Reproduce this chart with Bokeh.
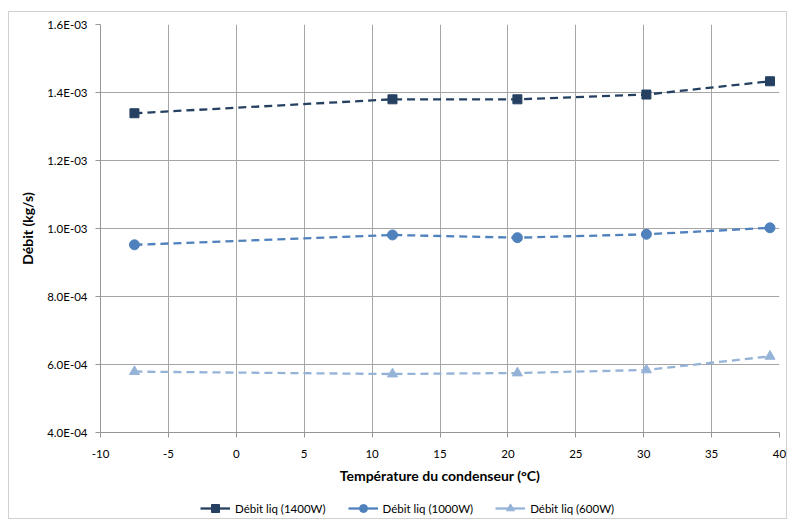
from bokeh.plotting import figure
from bokeh.layouts import column
from bokeh.models import CustomJSTickFormatter, FixedTicker, Range1d, Legend, LegendItem
from bokeh.embed import file_html
from bokeh.resources import INLINE

temp = [-7.5, 11.5, 20.7, 30.2, 39.3]
debit_1400 = [1.339e-3, 1.380e-3, 1.380e-3, 1.394e-3, 1.433e-3]
debit_1000 = [0.952e-3, 0.981e-3, 0.973e-3, 0.983e-3, 1.002e-3]
debit_600 = [0.579e-3, 0.572e-3, 0.575e-3, 0.584e-3, 0.624e-3]
x_ticks = [-10, -5, 0, 5, 10, 15, 20, 25, 30, 35, 40]
y_ticks = [4e-4, 6e-4, 8e-4, 1e-3, 1.2e-3, 1.4e-3, 1.6e-3]
labels = ["Débit liq (1400W)", "Débit liq (1000W)", "Débit liq (600W)"]

FONT = "Lato"
W = 777
p = figure(width=W, height=481, output_backend="svg", toolbar_location=None,
           x_range=Range1d(-10, 40), y_range=Range1d(4e-4, 1.6e-3),
           min_border_left=91, min_border_right=7, min_border_top=12, min_border_bottom=61)
p.outline_line_color = None

p.xaxis.ticker = FixedTicker(ticks=x_ticks)
p.yaxis.ticker = FixedTicker(ticks=y_ticks)
p.xaxis.formatter = CustomJSTickFormatter(code="return String(tick);")
p.yaxis.formatter = CustomJSTickFormatter(code="""
const s = tick.toExponential(1).split('e');
let e = parseInt(s[1]);
const sign = e < 0 ? '-' : '+';
e = Math.abs(e);
return s[0] + 'E' + sign + (e < 10 ? '0' + e : '' + e);
""")

for ax in (p.xaxis[0], p.yaxis[0]):
    ax.axis_line_color = "#969696"
    ax.major_tick_line_color = "#969696"
    ax.minor_tick_line_color = None
    ax.major_tick_out = 5
    ax.major_tick_in = 0
    ax.major_label_text_font = FONT
    ax.major_label_text_font_size = "11.5px"
    ax.major_label_text_color = "#000000"
    ax.axis_label_text_font = FONT
    ax.axis_label_text_font_size = "14px"
    ax.axis_label_text_font_style = "bold"
    ax.axis_label_text_color = "#000000"

p.xaxis.axis_label = "Température du condenseur (°C)"
p.yaxis.axis_label = "Débit (kg/s)"
p.xaxis.major_label_standoff = 12
p.xaxis.axis_label_standoff = 6
p.yaxis.major_label_standoff = 8
p.yaxis.axis_label_standoff = 8

p.xgrid.ticker = FixedTicker(ticks=x_ticks)
p.ygrid.ticker = FixedTicker(ticks=y_ticks)
p.grid.grid_line_color = "#a6a6a6"
p.grid.grid_line_width = 1

c1, c2, c3 = "#254061", "#4F81BD", "#95B3D7"
colors = [c1, c2, c3]
markers = ["square", "circle", "triangle"]
msizes = [9, 10, 10]
series = [debit_1400, debit_1000, debit_600]
for ys, c, mk, ms in zip(series, colors, markers, msizes):
    p.line(temp, ys, line_color=c, line_width=2.3, line_dash="8 5")
    p.scatter(temp, ys, marker=mk, size=ms, fill_color=c, line_color=c)

# legend strip below the chart (its renderers sit outside the visible range)
q = figure(width=W, height=25, output_backend="svg", toolbar_location=None,
           x_range=Range1d(0, 1), y_range=Range1d(0, 1),
           min_border_left=0, min_border_right=0, min_border_top=0, min_border_bottom=0)
q.axis.visible = False
q.grid.visible = False
q.outline_line_color = None
items = []
for lab, c, mk, ms in zip(labels, colors, markers, msizes):
    lr = q.line([-5, -4], [-5, -5], line_color=c, line_width=2.3)
    sr = q.scatter([-5], [-5], marker=mk, size=ms - 1, fill_color=c, line_color=c)
    items.append(LegendItem(label=lab, renderers=[lr, sr]))
legend = Legend(items=items, orientation="horizontal", location=(100, 0),
                label_text_font=FONT, label_text_font_size="11.5px",
                label_text_color="#000000", border_line_color=None,
                background_fill_alpha=0, glyph_width=30, label_standoff=5,
                spacing=22, margin=0, padding=4)
q.add_layout(legend, "center")

layout = column(p, q, spacing=0,
                styles={"border": "1px solid #d0d0d0", "margin-left": "8px", "margin-top": "11px"})

open("out.html", "w").write(file_html(layout, INLINE))
